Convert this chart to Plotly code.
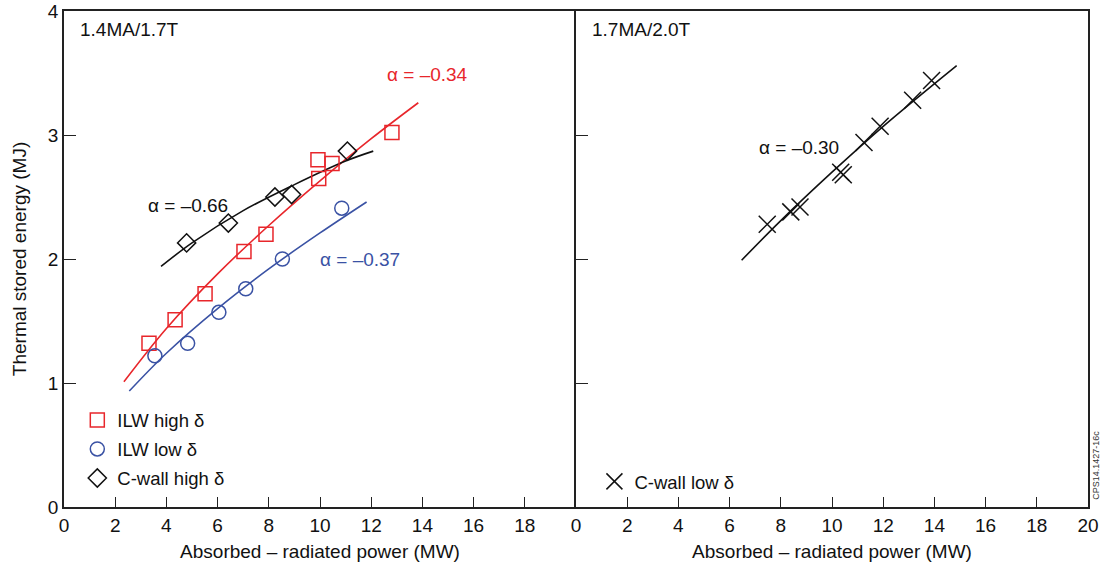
import plotly.graph_objects as go

# ---- data ----
ilw_high_x = [3.32, 4.34, 5.51, 7.03, 7.89, 9.92, 9.95, 10.47, 12.81]
ilw_high_y = [1.32, 1.51, 1.72, 2.06, 2.20, 2.80, 2.65, 2.77, 3.02]

ilw_low_x = [3.55, 4.83, 6.05, 7.10, 8.53, 10.85]
ilw_low_y = [1.22, 1.32, 1.57, 1.76, 2.00, 2.41]

cwall_high_x = [4.79, 6.42, 8.24, 8.89, 11.07]
cwall_high_y = [2.13, 2.29, 2.50, 2.52, 2.87]

cwall_low_x = [7.47, 8.39, 8.75, 10.34, 10.44, 11.25, 11.88, 13.15, 13.89]
cwall_low_y = [2.28, 2.38, 2.42, 2.70, 2.68, 2.94, 3.07, 3.28, 3.44]

# fit curves
fit_ilw_high_x = [2.34, 4, 6, 8, 10, 12, 13.84]
fit_ilw_high_y = [1.01, 1.44, 1.88, 2.27, 2.63, 2.97, 3.26]
fit_ilw_low_x = [2.55, 4, 6, 8, 10, 11.82]
fit_ilw_low_y = [0.935, 1.24, 1.60, 1.92, 2.21, 2.46]
fit_cwall_high_x = [3.79, 5, 7, 9, 11, 12.08]
fit_cwall_high_y = [1.94, 2.13, 2.39, 2.60, 2.79, 2.87]
fit_cwall_low_x = [6.47, 8, 10, 12, 14.87]
fit_cwall_low_y = [1.99, 2.31, 2.70, 3.07, 3.56]

alpha_labels = ["α = –0.34", "α = –0.66", "α = –0.37", "α = –0.30"]
panel_titles = ["1.4MA/1.7T", "1.7MA/2.0T"]
legend_names = ["ILW high δ", "ILW low δ", "C-wall high δ", "C-wall low δ"]
x_ticks_left = [0, 2, 4, 6, 8, 10, 12, 14, 16, 18]
x_ticks_right = [0, 2, 4, 6, 8, 10, 12, 14, 16, 18, 20]
y_ticks = [0, 1, 2, 3, 4]

RED = "#e8262b"
BLUE = "#3a52a4"
BLACK = "#111111"
FONT = "Liberation Sans, Arial, sans-serif"
FS = 19

fig = go.Figure()

# fit lines
fig.add_trace(go.Scatter(x=fit_ilw_high_x, y=fit_ilw_high_y, mode="lines", line=dict(color=RED, width=1.6, shape="spline"),
                         showlegend=False, xaxis="x", yaxis="y", hoverinfo="skip"))
fig.add_trace(go.Scatter(x=fit_ilw_low_x, y=fit_ilw_low_y, mode="lines", line=dict(color=BLUE, width=1.6, shape="spline"),
                         showlegend=False, xaxis="x", yaxis="y", hoverinfo="skip"))
fig.add_trace(go.Scatter(x=fit_cwall_high_x, y=fit_cwall_high_y, mode="lines", line=dict(color=BLACK, width=1.6, shape="spline"),
                         showlegend=False, xaxis="x", yaxis="y", hoverinfo="skip"))
fig.add_trace(go.Scatter(x=fit_cwall_low_x, y=fit_cwall_low_y, mode="lines", line=dict(color=BLACK, width=1.6, shape="spline"),
                         showlegend=False, xaxis="x2", yaxis="y2", hoverinfo="skip"))

# data markers
fig.add_trace(go.Scatter(x=ilw_high_x, y=ilw_high_y, mode="markers", name=legend_names[0],
                         marker=dict(symbol="square-open", size=14, color=RED, line=dict(width=1.5, color=RED)),
                         xaxis="x", yaxis="y", legend="legend", legendgroup="a"))
fig.add_trace(go.Scatter(x=ilw_low_x, y=ilw_low_y, mode="markers", name=legend_names[1],
                         marker=dict(symbol="circle-open", size=14, color=BLUE, line=dict(width=1.5, color=BLUE)),
                         xaxis="x", yaxis="y", legend="legend", legendgroup="b"))
fig.add_trace(go.Scatter(x=cwall_high_x, y=cwall_high_y, mode="markers", name=legend_names[2],
                         marker=dict(symbol="diamond-open", size=14, color=BLACK, line=dict(width=1.5, color=BLACK)),
                         xaxis="x", yaxis="y", legend="legend", legendgroup="c"))
fig.add_trace(go.Scatter(x=cwall_low_x, y=cwall_low_y, mode="markers", name=legend_names[3],
                         marker=dict(symbol="x-thin-open", size=17, color=BLACK, line=dict(width=1.5, color=BLACK)),
                         xaxis="x2", yaxis="y2", legend="legend2"))

axis_common = dict(showline=True, linecolor="#222222", linewidth=1.5, ticks="inside", automargin=False,
                   tickcolor="#222222", tickwidth=1.3, showgrid=False, zeroline=False,
                   ticklabeloverflow="allow",
                   tickfont=dict(family=FONT, size=FS, color="#111"))

fig.update_layout(
    width=1103, height=564,
    margin=dict(l=64, r=15, t=11, b=57),
    paper_bgcolor="white", plot_bgcolor="white",
    font=dict(family=FONT, size=FS, color="#111"),
    xaxis=dict(domain=[0, 0.5], range=[0, 20], tickvals=x_ticks_left, ticklen=10, mirror=True,
               title=dict(text="Absorbed – radiated power (MW)", font=dict(family=FONT, size=FS), standoff=10),
               **axis_common),
    yaxis=dict(domain=[0, 1], range=[0, 4], tickvals=y_ticks, ticklen=12, mirror=False,
               title=dict(text="Thermal stored energy (MJ)", font=dict(family=FONT, size=FS), standoff=16),
               anchor="x", **axis_common),
    xaxis2=dict(domain=[0.5, 1], range=[0, 20], tickvals=x_ticks_right, ticklen=10, anchor="y2", mirror=True,
                title=dict(text="Absorbed – radiated power (MW)", font=dict(family=FONT, size=FS), standoff=10),
                **axis_common),
    yaxis2=dict(domain=[0, 1], range=[0, 4], tickvals=y_ticks, ticklen=12, anchor="x2", mirror=True,
                showticklabels=False, **axis_common),
    legend=dict(x=0.013, y=0.213, xanchor="left", yanchor="top", bgcolor="rgba(0,0,0,0)",
                font=dict(family=FONT, size=18.5, color="#111"), traceorder="grouped", tracegroupgap=2),
    legend2=dict(x=0.518, y=0.089, xanchor="left", yanchor="top", bgcolor="rgba(0,0,0,0)",
                 font=dict(family=FONT, size=18.5, color="#111")),
)

annots = [
    dict(text=panel_titles[0], xref="x domain", yref="y domain", x=0.028, y=0.962, xanchor="left", yanchor="middle",
         showarrow=False, font=dict(family=FONT, size=FS, color="#111")),
    dict(text=panel_titles[1], xref="x2 domain", yref="y2 domain", x=0.028, y=0.962, xanchor="left", yanchor="middle",
         showarrow=False, font=dict(family=FONT, size=FS, color="#111")),
    dict(text=alpha_labels[0], xref="x", yref="y", x=14.18, y=3.49, showarrow=False,
         font=dict(family=FONT, size=FS, color=RED)),
    dict(text=alpha_labels[1], xref="x", yref="y", x=4.84, y=2.435, showarrow=False,
         font=dict(family=FONT, size=FS, color=BLACK)),
    dict(text=alpha_labels[2], xref="x", yref="y", x=11.56, y=2.0, showarrow=False,
         font=dict(family=FONT, size=FS, color=BLUE)),
    dict(text=alpha_labels[3], xref="x2", yref="y2", x=8.71, y=2.90, showarrow=False,
         font=dict(family=FONT, size=FS, color=BLACK)),
    dict(text="CPS14.1427-16c", xref="paper", yref="paper", x=1.0078, y=0.085, xanchor="center", yanchor="middle",
         textangle=-90, showarrow=False, font=dict(family=FONT, size=9, color="#333")),
]
fig.update_layout(annotations=annots)

# remove the browser's default 8px body margin so the figure fills the window exactly
fig.write_html("out.html", config={"displayModeBar": False},
               post_script="document.body.style.margin='0';document.body.style.overflow='hidden';")
